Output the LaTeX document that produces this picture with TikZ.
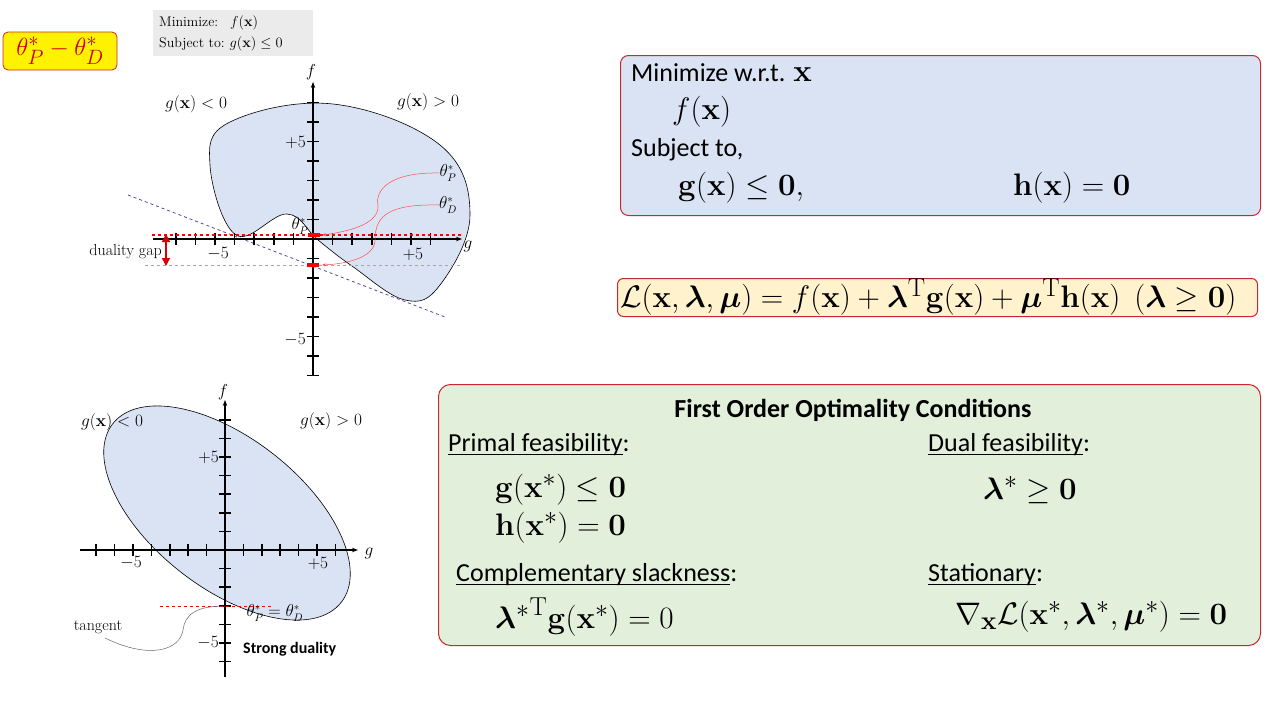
\documentclass[tikz,border=0pt]{standalone}
\usepackage{graphicx}
\usepackage{amsmath,amssymb,bm}
\usepackage[no-math]{fontspec}
\setmainfont{Carlito}
\newfontfamily\serifx{Latin Modern Roman}
\usetikzlibrary{arrows.meta}
\definecolor{boxred}{RGB}{200,40,50}
\definecolor{blueF}{RGB}{218,227,243}
\definecolor{yelF}{RGB}{255,242,204}
\definecolor{greenF}{RGB}{226,239,218}
\definecolor{purp}{RGB}{90,70,160}
\newcommand{\ul}[1]{\underline{\smash{#1}}}
\newcommand{\bgm}[1]{\scalebox{1.25}{\fontsize{24.88}{28}\selectfont$#1$}}
\tikzset{
 box/.style={draw=boxred,line width=1pt,rounded corners=8pt},
 big/.style={font=\fontsize{26}{30}\selectfont,inner sep=0pt,anchor=west},
 mth/.style={inner sep=0pt,anchor=west},
 sm/.style={font=\serifx\fontsize{16}{18}\selectfont,inner sep=0pt},
 ax/.style={line width=1.2pt,-{Stealth[length=6pt]}},
 tk/.style={line width=1.6pt},
}
\begin{document}
\begin{tikzpicture}[x=1pt,y=-1pt]
\useasboundingbox (0,0) rectangle (1280,720);
% yellow box
\node[draw=boxred,fill=yellow,rounded corners=5pt,line width=0.8pt,minimum width=114pt,minimum height=38pt] (yb) at (60,51) {\fontsize{24.88}{28}\selectfont\color{red!80!black}$\theta_P^*-\theta_D^*$};
% gray box
\node[fill=black!8,minimum width=160pt,minimum height=46pt] (gb) at (233,33) {};
\node[sm,anchor=west,font=\serifx\fontsize{14}{16}\selectfont] (m1) at (159,23) {Minimize:\hspace{12pt}$f(\mathbf{x})$};
\node[sm,anchor=west,font=\serifx\fontsize{14}{16}\selectfont] (m2) at (159,44) {Subject to:\hspace{5pt}$g(\mathbf{x})\le 0$};
% ---- top chart ----
\fill[blueF] plot[smooth cycle,tension=0.65] coordinates {(236,235)(287,214)(318,240)(352,266)(405,300)(440,285)(470,215)(440,145)(333,104)(230,122)(210,165)};
\draw[line width=0.6pt] plot[smooth cycle,tension=0.65] coordinates {(236,235)(287,214)(318,240)(352,266)(405,300)(440,285)(470,215)(440,145)(333,104)(230,122)(210,165)};
\draw[purp,dashed,line width=0.8pt] (128,195) -- (445,317);
\draw[ax] (153,239) -- (462,239);
\draw[ax] (313,376) -- (313,82);
\foreach \i in {-7,...,-1,1,2,...,6} \draw[tk] (313+19.6*\i,233) -- (313+19.6*\i,245);
\foreach \j in {-7,...,-1,1,2,...,7} \draw[tk] (307,239-19.5*\j) -- (319,239-19.5*\j);
\draw[red,dashed,line width=1.2pt] (152,235) -- (463,235);
\draw[black!35,dashed,line width=1pt] (145,265) -- (463,265);
\draw[red,line width=3.5pt] (308,235) -- (320,235);
\draw[red,line width=3.5pt] (307,265) -- (319,265);
\coordinate (gm) at (166,250);
\coordinate (gt) at (166,234);
\coordinate (gbt) at (166,266);
\draw[red!85!black,line width=1.4pt,-{Triangle[length=8pt,width=8pt]}] (gm) -- (gt);
\draw[red!85!black,line width=1.4pt,-{Triangle[length=8pt,width=8pt]}] (gm) -- (gbt);
\node[sm,anchor=east] (dg) at (162,252) {duality gap};
\node[sm] (tm5) at (218,254) {$-5$};
\node[sm] (tp5) at (413,254) {$+5$};
\node[sm,anchor=east] (yp5) at (306,142) {$+5$};
\node[sm,anchor=east] (ym5) at (306,340) {$-5$};
\node[sm] (fl) at (311,72) {$f$};
\node[sm] (gl) at (468,246) {$g$};
\node[sm] (r1) at (196,104) {$g(\mathbf{x})<0$};
\node[sm] (r2) at (428,102) {$g(\mathbf{x})>0$};
\node[sm] (tP) at (448,173) {$\theta_P^*$};
\node[sm] (tD) at (448,205) {$\theta_D^*$};
\node[sm] (tP2) at (300,226) {$\theta_P^*$};
\coordinate (pP) at (322,235);
\coordinate (pD) at (322,265);
\draw[red!70,line width=0.5pt,-{Stealth[length=4pt]}] (tP.west) .. controls (390,172) and (375,190) .. (378,205) .. controls (380,225) and (345,232) .. (pP);
\draw[red!70,line width=0.5pt,-{Stealth[length=4pt]}] (tD.west) .. controls (390,204) and (375,215) .. (375,240) .. controls (375,258) and (345,264) .. (pD);
% ---- bottom chart ----
\fill[blueF,rotate around={-38:(227,513)}] (227,513) ellipse [x radius=145,y radius=75];
\draw[line width=0.6pt,rotate around={-38:(227,513)}] (227,513) ellipse [x radius=145,y radius=75];
\draw[ax] (80,550) -- (358,550);
\draw[ax] (225,677) -- (225,400);
\foreach \i in {-7,...,-1,1,2,...,6} \draw[tk] (225+18.4*\i,544) -- (225+18.4*\i,556);
\foreach \j in {-6,...,-1,1,2,...,7} \draw[tk] (219,550-18.6*\j) -- (231,550-18.6*\j);
\draw[red,dashed,line width=1pt] (160,606) -- (272,606);
\node[sm] (bm5) at (131,563) {$-5$};
\node[sm] (bp5) at (318,563) {$+5$};
\node[sm,anchor=east] (byp) at (219,457) {$+5$};
\node[sm,anchor=east] (bym) at (219,643) {$-5$};
\node[sm] (bf) at (223,392) {$f$};
\node[sm] (bg) at (369,553) {$g$};
\node[sm] (br1) at (112,422) {$g(\mathbf{x})<0$};
\node[sm] (br2) at (331,421) {$g(\mathbf{x})>0$};
\node[sm] (eq) at (275,613) {$\theta_P^*=\theta_D^*$};
\node[sm] (tg) at (98,627) {tangent};
\coordinate (tpt) at (225,606);
\draw[black!60,line width=0.5pt] (tpt) .. controls (195,606) and (185,615) .. (183,630) .. controls (180,650) and (150,660) .. (105,638);
\node[font=\bfseries\fontsize{16}{18}\selectfont,anchor=west,inner sep=0pt] (sd) at (243,649) {Strong duality};
% ---- box 1 ----
\node[box,fill=blueF,minimum width=640pt,minimum height=160pt,anchor=north west] (b1) at (620,55) {};
\node[big] (t1) at (631,73) {Minimize w.r.t. \bgm{\mathbf{x}}};
\node[mth] (t2) at (672,112) {\bgm{f(\mathbf{x})}};
\node[big] (t3) at (631,150) {Subject to,};
\node[mth] (t4) at (678,188) {\bgm{\mathbf{g}(\mathbf{x})\le\mathbf{0},}};
\node[mth] (t5) at (1013,188) {\bgm{\mathbf{h}(\mathbf{x})=\mathbf{0}}};
% ---- box 2 ----
\node[box,fill=yelF,minimum width=640pt,minimum height=38pt,anchor=north west,rounded corners=6pt] (b2) at (617,278) {};
\node[mth] (L) at (620,297) {\bgm{\mathcal{L}(\mathbf{x},\bm{\lambda},\bm{\mu})=f(\mathbf{x})+\bm{\lambda}^{\mathrm{T}}\mathbf{g}(\mathbf{x})+\bm{\mu}^{\mathrm{T}}\mathbf{h}(\mathbf{x})\ \ (\bm{\lambda}\ge\mathbf{0})}};
% ---- box 3 ----
\node[box,fill=greenF,minimum width=822pt,minimum height=261pt,anchor=north west,rounded corners=12pt] (b3) at (438,384) {};
\node[big,anchor=center,font=\bfseries\fontsize{26}{30}\selectfont] (tt) at (853,410) {First Order Optimality Conditions};
\node[big] (c1) at (448,448) {\ul{Primal feasibility}:};
\node[mth] (c2) at (495,490) {\bgm{\mathbf{g}(\mathbf{x}^*)\le\mathbf{0}}};
\node[mth] (c3) at (495,528) {\bgm{\mathbf{h}(\mathbf{x}^*)=\mathbf{0}}};
\node[big] (c4) at (456,578) {\ul{Complementary slackness}:};
\node[mth] (c5) at (495,617) {\bgm{{\bm{\lambda}^*}^{\mathrm{T}}\mathbf{g}(\mathbf{x}^*)=0}};
\node[big] (d1) at (928,448) {\ul{Dual feasibility}:};
\node[mth] (d2) at (983,490) {\bgm{\bm{\lambda}^*\ge\mathbf{0}}};
\node[big] (d3) at (928,578) {\ul{Stationary}:};
\node[mth] (d4) at (955,617) {\bgm{\nabla_{\mathbf{x}}\mathcal{L}(\mathbf{x}^*,\bm{\lambda}^*,\bm{\mu}^*)=\mathbf{0}}};
\end{tikzpicture}
\end{document}
